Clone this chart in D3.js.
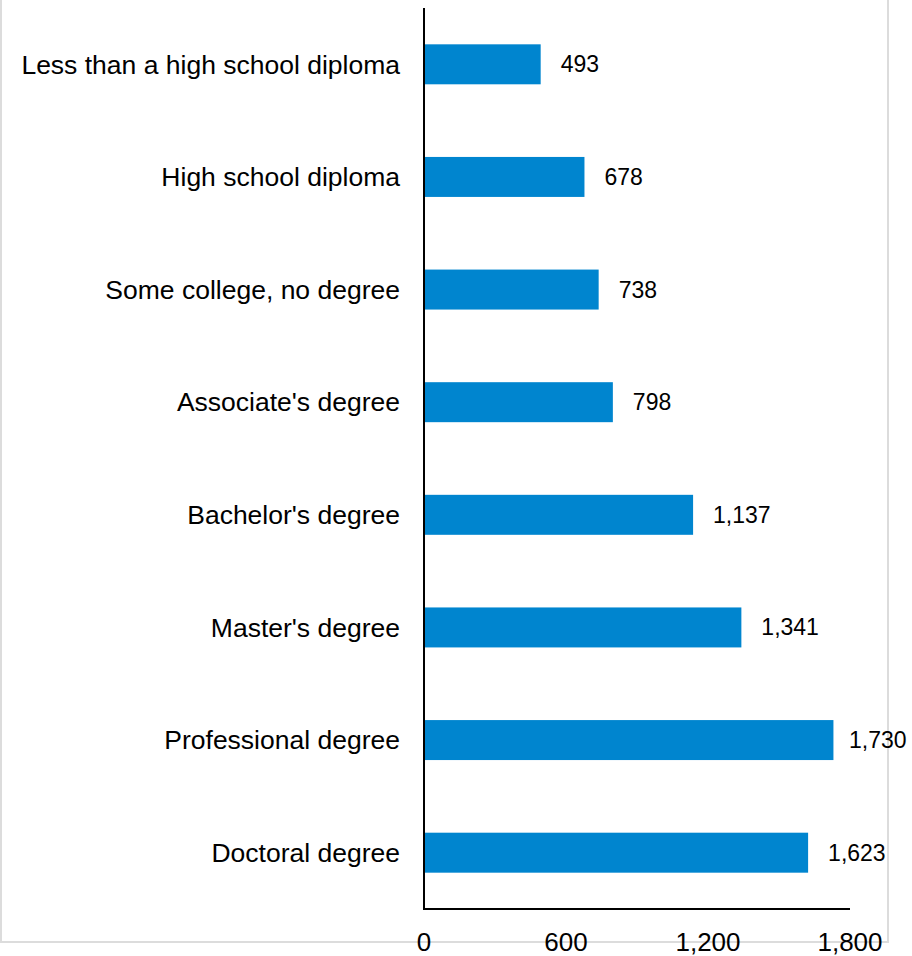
<!DOCTYPE html>
<html>
<head>
<meta charset="utf-8">
<script src="https://cdn.jsdelivr.net/npm/d3@7"></script>
<style>
  body { margin: 0; background: #fff; }
  text { font-family: "Liberation Sans", Arial, sans-serif; fill: #000; }
</style>
</head>
<body>
<div id="chart"></div>
<script>
// Categories and values
var categories = [
    "Less than a high school diploma",
    "High school diploma",
    "Some college, no degree",
    "Associate's degree",
    "Bachelor's degree",
    "Master's degree",
    "Professional degree",
    "Doctoral degree"
];
var values = [493, 678, 738, 798, 1137, 1341, 1730, 1623];
var xTicks = [0, 600, 1200, 1800];

function init() {
    var W = 912, H = 956;
    var left = 424, right = 850, top = 8, bottom = 909;

    var svg = d3.select("#chart").append("svg")
        .attr("width", W)
        .attr("height", H);

    // light frame round the plot
    svg.append("rect")
        .attr("x", 1)
        .attr("y", -5)
        .attr("width", 887)
        .attr("height", 947)
        .style("fill", "none")
        .style("stroke", "#dcdcdc")
        .style("stroke-width", 2);

    var x = d3.scaleLinear().domain([0, 1800]).range([left, right]);
    var y = d3.scaleBand().domain(categories).range([top, bottom]).paddingInner(0.645).paddingOuter(0.3225);

    var fmt = d3.format(",");

    svg.selectAll(".bar")
        .data(values)
        .enter().append("rect")
        .attr("class", "bar")
        .attr("x", x(0))
        .attr("y", function(d, i) { return y(categories[i]); })
        .attr("width", function(d) { return x(d) - x(0); })
        .attr("height", y.bandwidth())
        .style("fill", "#0085cf");

    // value labels (pulled in when they would run off the right edge)
    svg.selectAll(".val")
        .data(values)
        .enter().append("text")
        .attr("class", "val")
        .attr("x", function(d) { return Math.min(x(d) + 20, 849); })
        .attr("y", function(d, i) { return y(categories[i]) + y.bandwidth() / 2; })
        .attr("dy", "0.35em")
        .style("font-size", "23px")
        .text(function(d) { return fmt(d); });

    // category labels
    svg.selectAll(".cat")
        .data(categories)
        .enter().append("text")
        .attr("class", "cat")
        .attr("x", 400)
        .attr("y", function(d) { return y(d) + y.bandwidth() / 2; })
        .attr("dy", "0.35em")
        .attr("text-anchor", "end")
        .style("font-size", "26.5px")
        .text(function(d) { return d; });

    // axes lines
    svg.append("line")
        .attr("x1", left).attr("x2", left)
        .attr("y1", top).attr("y2", bottom)
        .style("stroke", "#000").style("stroke-width", 2);
    svg.append("line")
        .attr("x1", left - 1).attr("x2", right)
        .attr("y1", bottom).attr("y2", bottom)
        .style("stroke", "#000").style("stroke-width", 2);

    svg.selectAll(".tick")
        .data(xTicks)
        .enter().append("text")
        .attr("class", "tick")
        .attr("x", function(d) { return x(d); })
        .attr("y", 951)
        .attr("text-anchor", "middle")
        .style("font-size", "26px")
        .text(function(d) { return fmt(d); });
}
init();
</script>
</body>
</html>
